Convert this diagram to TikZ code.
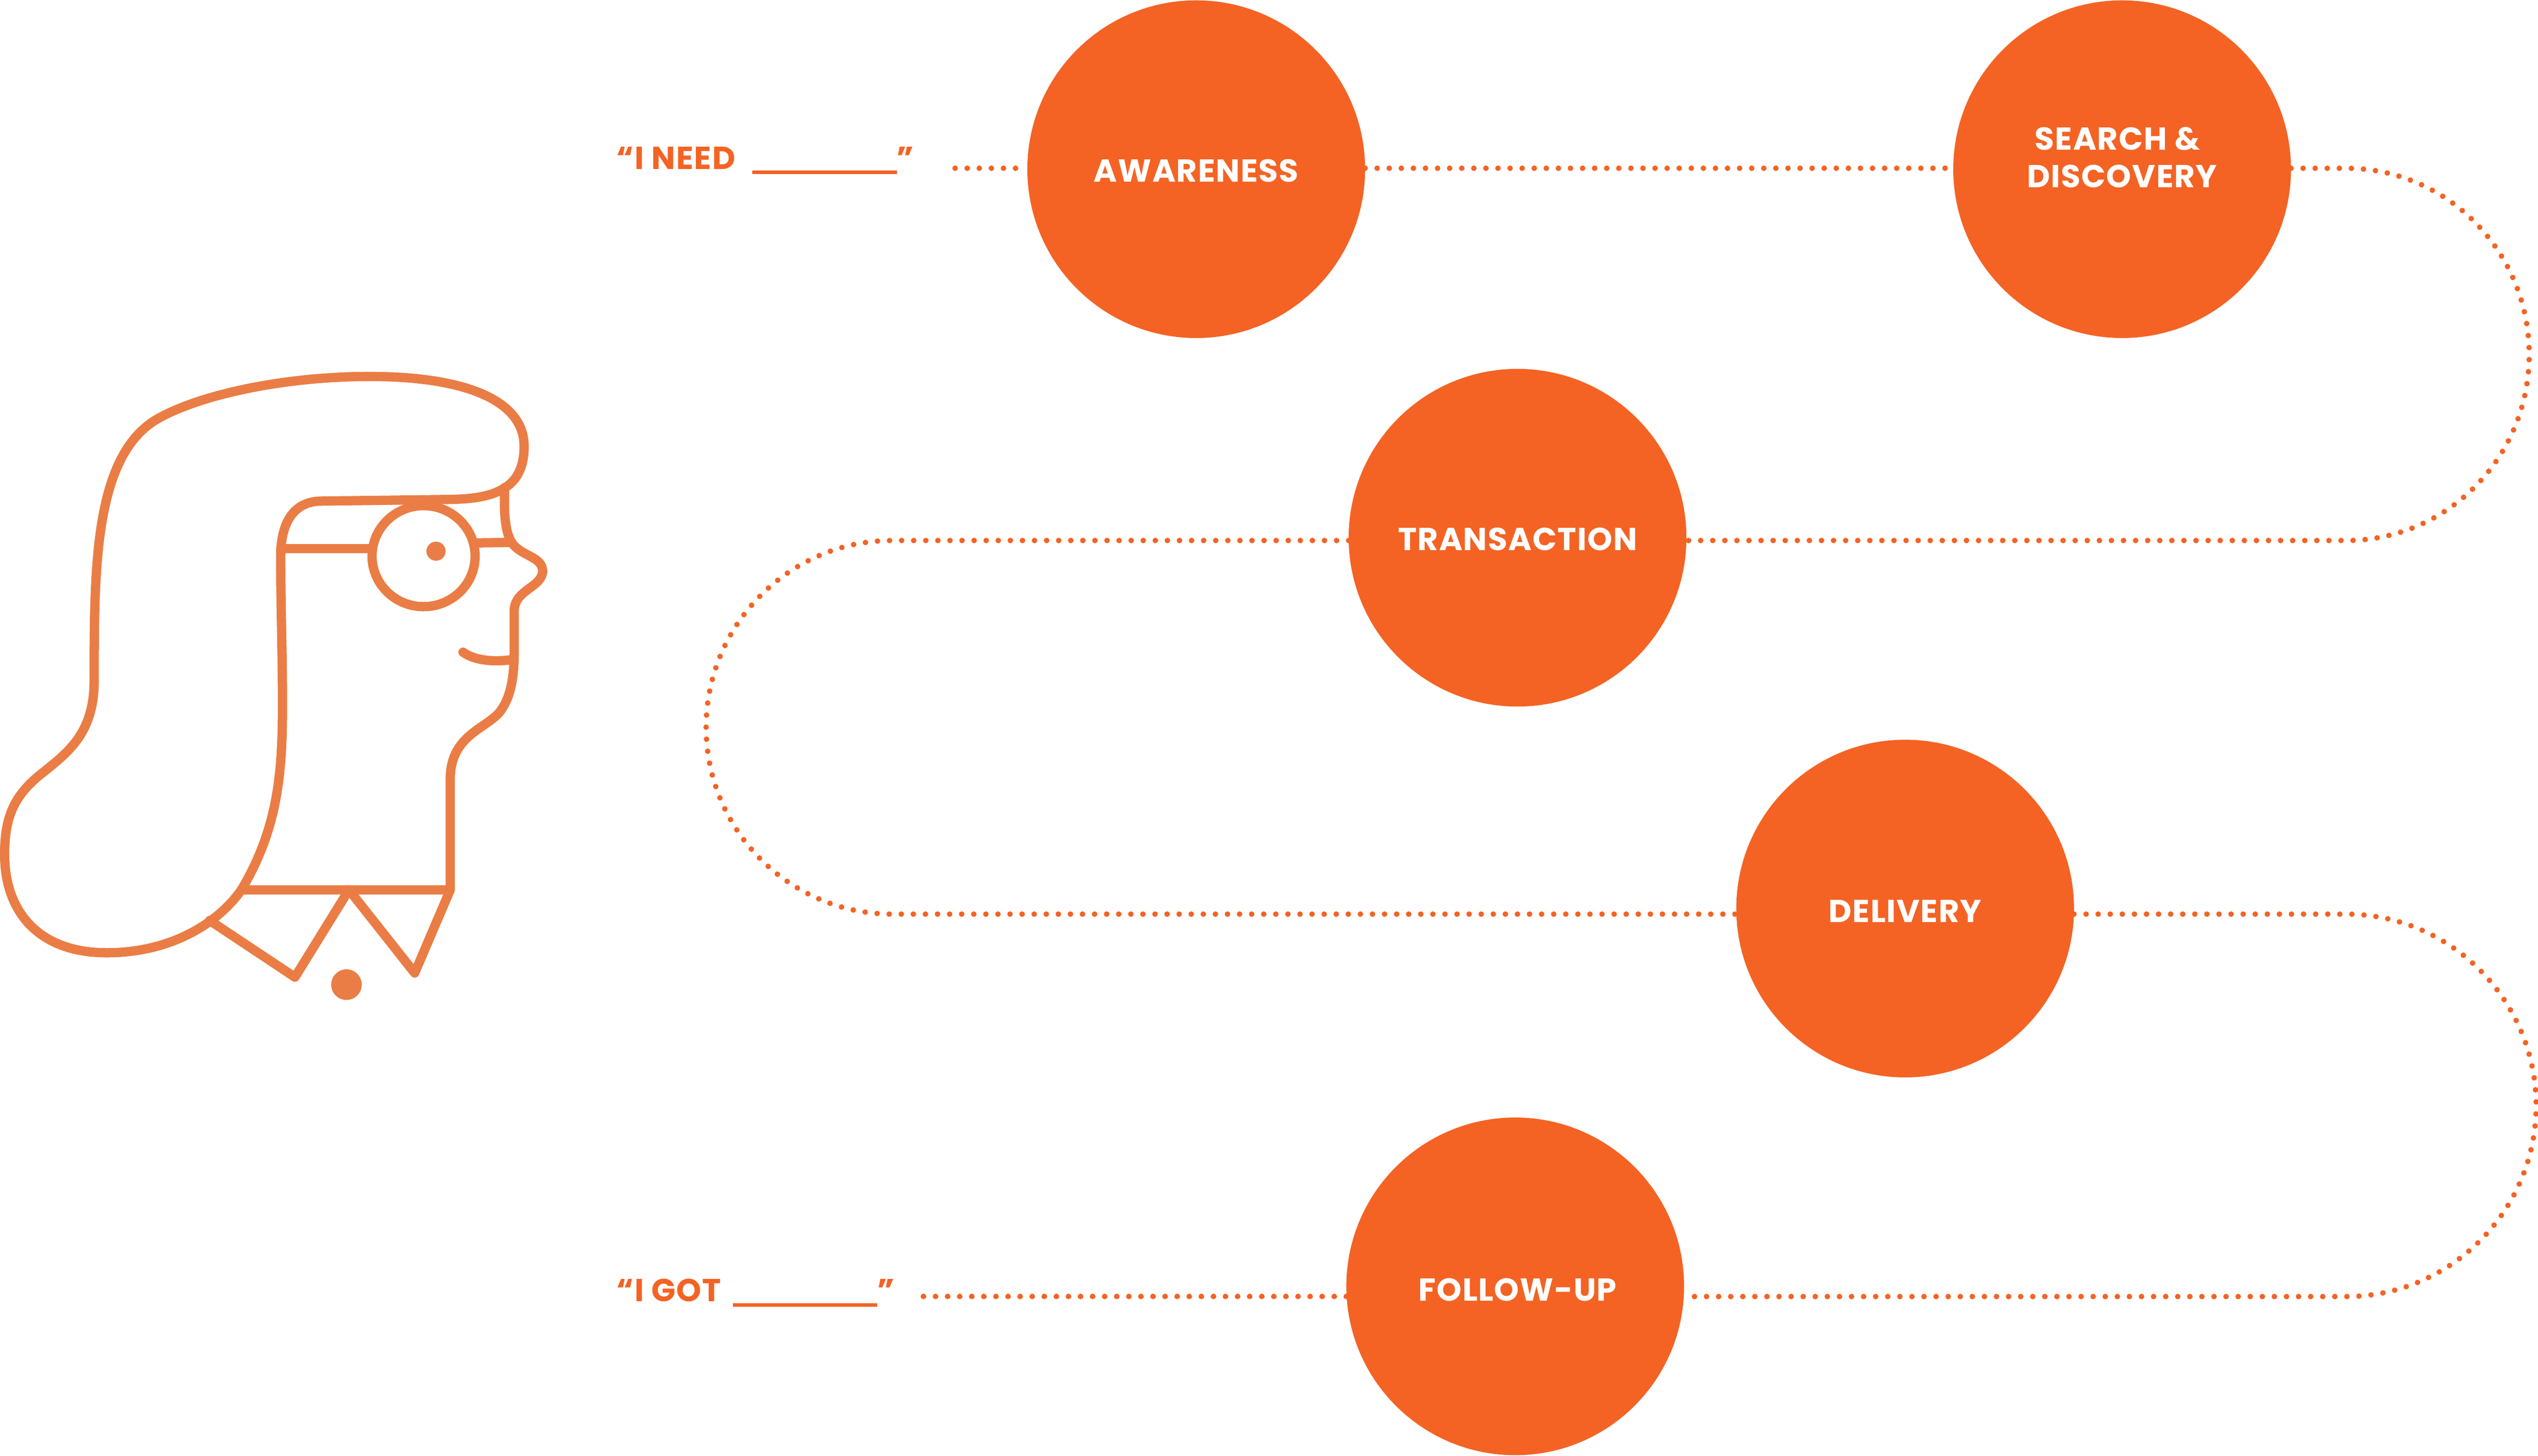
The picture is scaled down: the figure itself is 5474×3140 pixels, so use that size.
\documentclass[tikz,border=0pt]{standalone}
\usepackage{fontspec}
\setmainfont{Poppins}[LetterSpace=2.5]
\definecolor{dotorange}{HTML}{F46324}
\definecolor{faceorange}{HTML}{EA7D45}
\tikzset{
  stage/.style={circle,fill=dotorange,minimum size=7.28cm,inner sep=0pt,outer sep=0pt},
  stagetext/.style={text=white,anchor=base,align=center,inner sep=0pt,outer sep=0pt,font=\fontsize{19.5}{22.8}\selectfont\bfseries},
  dotted path/.style={draw=dotorange,line width=0.12cm,line cap=round,dash pattern=on 0.01pt off 7.4pt},
  face/.style={draw=faceorange,line width=0.2cm,line cap=round,line join=round},
  quote/.style={text=dotorange,anchor=base west,inner sep=0pt,outer sep=0pt,font=\fontsize{19.5}{23}\selectfont\bfseries}
}
\begin{document}
\begin{tikzpicture}[x=0.01cm,y=-0.01cm]
\useasboundingbox (0,0) rectangle (5474,3140);
\node[stage] (aw) at (2580,365) {};
\node[stage] (se) at (4577,365) {};
\node[stage] (tr) at (3273,1160) {};
\node[stage] (de) at (4109,1960) {};
\node[stage] (fo) at (3268,2775) {};
\node[stagetext] (awt) at (2580,392) {AWARENESS};
\node[stagetext] (set) at (4577,404) {SEARCH \&\hspace*{0.2cm}\\DISCOVERY};
\node[stagetext] (trt) at (3273,1187) {TRANSACTION};
\node[stagetext] (det) at (4109,1990) {DELIVERY};
\node[stagetext] (fot) at (3273,2806) {FOLLOW-UP};
\node[quote] (need) at (1330,365) {\makebox[2.92cm][l]{“I NEED}\rule[-0.11cm]{3.12cm}{0.08cm}”};
\node[quote] (got) at (1330,2808) {\makebox[2.51cm][l]{“I GOT}\rule[-0.11cm]{3.11cm}{0.08cm}”};
\coordinate (needend) at (2060,363);
\coordinate (gotend) at (1990,2797);
\coordinate (r1a) at (5060,363);
\coordinate (r1b) at (5060,1166);
\coordinate (l1a) at (1925,1166);
\coordinate (l1b) at (1925,1972);
\coordinate (r2a) at (5060,1972);
\coordinate (r2b) at (5060,2797);
\draw[dotted path] (needend) -- (aw.west |- needend);
\draw[dotted path] (aw.east |- needend) -- (se.west |- needend);
\draw[dotted path] (se.east |- r1a) -- (r1a) .. controls +(220,0) and +(0,-220) .. (5455,765) .. controls +(0,220) and +(220,0) .. (r1b) -- (tr.east |- r1b);
\draw[dotted path] (tr.west |- l1a) -- (l1a) .. controls +(-222,0) and +(0,-222) .. (1523,1569) .. controls +(0,222) and +(-222,0) .. (l1b) -- (de.west |- l1b);
\draw[dotted path] (de.east |- r2a) -- (r2a) .. controls +(226,0) and +(0,-226) .. (5470,2385) .. controls +(0,226) and +(226,0) .. (r2b) -- (fo.east |- r2b);
\draw[dotted path] (fo.west |- gotend) -- (gotend);
\begin{scope}[shift={(0,780)},x=0.00765306cm,y=-0.00892857cm]
\path[face] (1040,36) .. controls (1300,36) and (1475,90) .. (1475,205)
 .. controls (1475,260) and (1450,290) .. (1420,305)
 .. controls (1380,328) and (1320,332) .. (1270,333)
 -- (905,337) .. controls (830,337) and (790,385) .. (790,470)
 .. controls (790,600) and (795,700) .. (795,830)
 .. controls (795,1000) and (780,1130) .. (680,1275)
 .. controls (620,1350) and (490,1428) .. (300,1428)
 .. controls (110,1428) and (13,1330) .. (13,1190)
 .. controls (13,1100) and (40,1050) .. (110,1000)
 .. controls (190,945) and (265,900) .. (265,770)
 .. controls (265,500) and (265,230) .. (440,140)
 .. controls (560,80) and (800,36) .. (1040,36) -- cycle;
\path[face] (790,452) -- (1045,452);
\path[face] (1340,438) -- (1435,437);
\path[face] (1192,470) circle [x radius=145,y radius=122];
\path[face] (1420,305) .. controls (1418,360) and (1420,410) .. (1440,437)
 .. controls (1465,470) and (1525,470) .. (1527,505)
 .. controls (1527,545) and (1450,550) .. (1447,600)
 -- (1447,700) .. controls (1447,770) and (1435,815) .. (1405,848)
 .. controls (1360,890) and (1267,905) .. (1267,1010) -- (1267,1276) -- (680,1276);
\path[face] (590,1350) -- (830,1487) -- (982,1276) -- (1167,1477) -- (1267,1276);
\path[face] (1303,702) .. controls (1340,725) and (1400,725) .. (1440,720);
\path[fill=faceorange] (1227,458) circle [x radius=27,y radius=23];
\path[fill=faceorange] (975,1505) circle [x radius=43,y radius=37];
\end{scope}
\end{tikzpicture}
\end{document}
